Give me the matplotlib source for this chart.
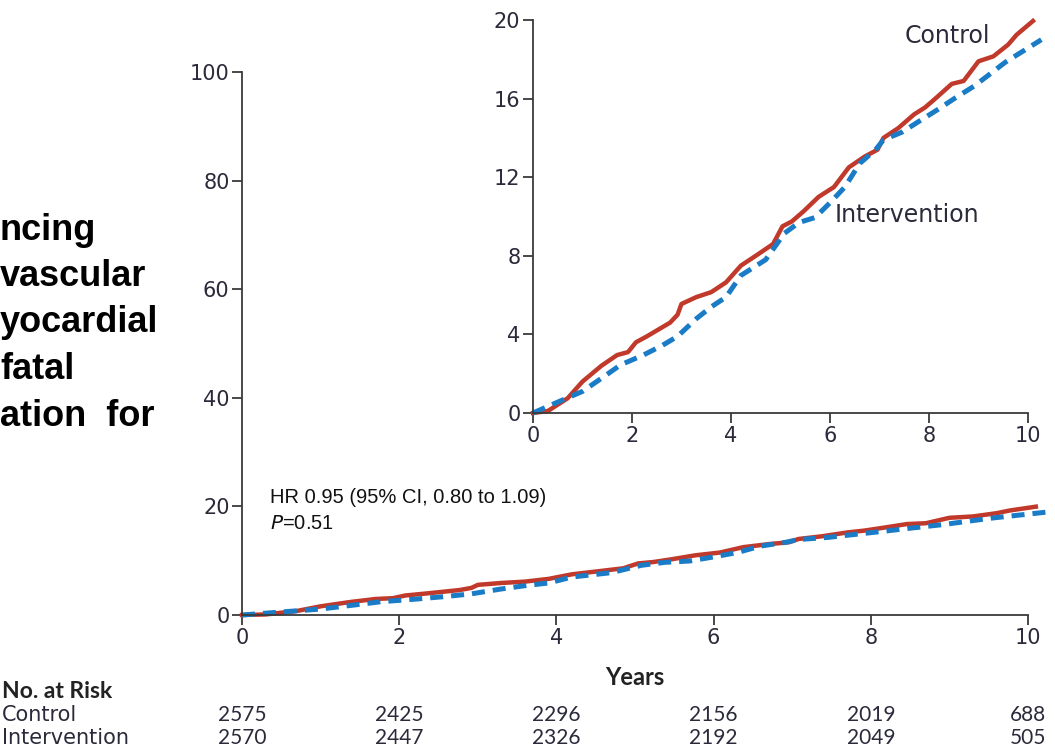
import matplotlib
matplotlib.use("Agg")
import matplotlib.pyplot as plt
import matplotlib.transforms as mtransforms

# Cumulative incidence (%)
years_ctrl = [0, 0.3, 0.7, 1.0, 1.38, 1.7, 1.92, 2.08, 2.3, 2.77, 2.92, 3.0, 3.3, 3.6, 3.9,
              4.2, 4.5, 4.85, 5.04, 5.23, 5.46, 5.77, 6.08, 6.38, 6.7, 6.96, 7.08, 7.38,
              7.7, 7.92, 8.15, 8.46, 8.7, 9.0, 9.3, 9.6, 9.77, 10.1]
pct_ctrl = [0, 0.1, 0.75, 1.6, 2.4, 2.95, 3.1, 3.6, 3.9, 4.6, 5.0, 5.55, 5.9, 6.15, 6.65,
            7.5, 8.0, 8.6, 9.5, 9.75, 10.25, 11.0, 11.5, 12.5, 13.05, 13.4, 14.0, 14.5,
            15.2, 15.55, 16.05, 16.75, 16.9, 17.9, 18.15, 18.75, 19.25, 19.95]

years_int = [0, 0.54, 1.0, 1.46, 1.77, 2.23, 2.62, 2.92, 3.3, 3.6, 3.9, 4.2, 4.7, 5.08,
             5.38, 5.7, 6.0, 6.3, 6.6, 6.92, 7.08, 7.46, 7.77, 8.15, 8.54, 8.92, 9.23,
             9.54, 9.92, 10.27]
pct_int = [0, 0.6, 1.1, 1.9, 2.45, 2.95, 3.45, 3.9, 4.8, 5.4, 5.9, 7.0, 7.8, 9.15,
           9.7, 9.95, 10.7, 11.5, 12.7, 13.4, 13.9, 14.3, 14.8, 15.4, 16.05, 16.65, 17.25,
           17.85, 18.45, 19.0]

risk_years = [0, 2, 4, 6, 8, 10]
risk_ctrl = [2575, 2425, 2296, 2156, 2019, 688]
risk_int = [2570, 2447, 2326, 2192, 2049, 505]

label_lines = ["ncing", "vascular", "yocardial", "fatal", "ation  for"]

RED = "#c0392b"
BLUE = "#1a7bc6"
AXC = "#3a3a3a"
TXT = "#2a2a3a"
WIDE = ["DejaVu Sans"]
LATO = ["Lato", "DejaVu Sans"]
ARIAL = ["Liberation Sans", "DejaVu Sans"]
DASH = (0, (2.6, 1.6))

fig = plt.figure(figsize=(10.55, 7.56), dpi=100)


def style_axes(ax, yticks):
    ax.spines["top"].set_visible(False)
    ax.spines["right"].set_visible(False)
    for s in ("left", "bottom"):
        ax.spines[s].set_color(AXC)
        ax.spines[s].set_linewidth(1.3)
    ax.set_xlim(0, 10)
    ax.set_xticks(risk_years)
    ax.set_yticks(yticks)
    ax.tick_params(length=7, width=1.3, color=AXC, labelcolor=TXT,
                   labelsize=15, pad=2)
    for lab in ax.get_xticklabels() + ax.get_yticklabels():
        lab.set_family(WIDE)
    ax.patch.set_alpha(0)


# ---- main axes ----
ax = fig.add_axes([0.2294, 0.1865, 0.745, 0.7183])
ax.set_ylim(0, 100)
style_axes(ax, [0, 20, 40, 60, 80, 100])
ax.plot(years_ctrl, pct_ctrl, color=RED, lw=3.2, clip_on=False)
ax.plot(years_int, pct_int, color=BLUE, lw=3.6, ls=DASH, clip_on=False)
ax.set_xlabel("Years", fontsize=17, fontweight="bold", family=LATO,
              color="#222222", labelpad=13)
ax.text(0.36, 21.7, "HR 0.95 (95% CI, 0.80 to 1.09)", fontsize=14.5,
        family=ARIAL, va="center", color="#111111")
ax.text(0.36, 16.8, "$\\it{P}$=0.51", fontsize=14.5,
        family=ARIAL, va="center", color="#111111")

# ---- inset ----
ins = fig.add_axes([0.5052, 0.4537, 0.4692, 0.5198])
ins.set_ylim(0, 20)
style_axes(ins, [0, 4, 8, 12, 16, 20])
ins.plot(years_ctrl, pct_ctrl, color=RED, lw=3.2, clip_on=False)
ins.plot(years_int, pct_int, color=BLUE, lw=3.6, ls=DASH, clip_on=False)
ins.text(7.5, 19.2, "Control", fontsize=17, family=WIDE, color=TXT, va="center")
ins.text(6.1, 10.1, "Intervention", fontsize=17, family=WIDE, color=TXT, va="center")

# ---- cropped y-axis label on the left ----
for i, line in enumerate(label_lines):
    fig.text(0.0, 1 - (230 + i * 46.5) / 756, line, fontsize=26, fontweight="bold",
             family=ARIAL, va="center", ha="left")

# ---- number at risk table ----
tr = mtransforms.blended_transform_factory(ax.transData, fig.transFigure)
fig.text(0.002, 1 - 692 / 756, "No. at Risk", fontsize=16.5, fontweight="bold",
         family=LATO, va="center", color="#222222")
fig.text(0.002, 1 - 715 / 756, "Control", fontsize=15, family=WIDE, va="center", color=TXT)
fig.text(0.002, 1 - 738 / 756, "Intervention", fontsize=15, family=WIDE, va="center", color=TXT)
for yr, c, n in zip(risk_years, risk_ctrl, risk_int):
    ax.text(yr, 1 - 715 / 756, str(c), transform=tr, fontsize=15, family=LATO,
            ha="center", va="center", color=TXT)
    ax.text(yr, 1 - 738 / 756, str(n), transform=tr, fontsize=15, family=LATO,
            ha="center", va="center", color=TXT)

fig.savefig("out.png", dpi=100)
